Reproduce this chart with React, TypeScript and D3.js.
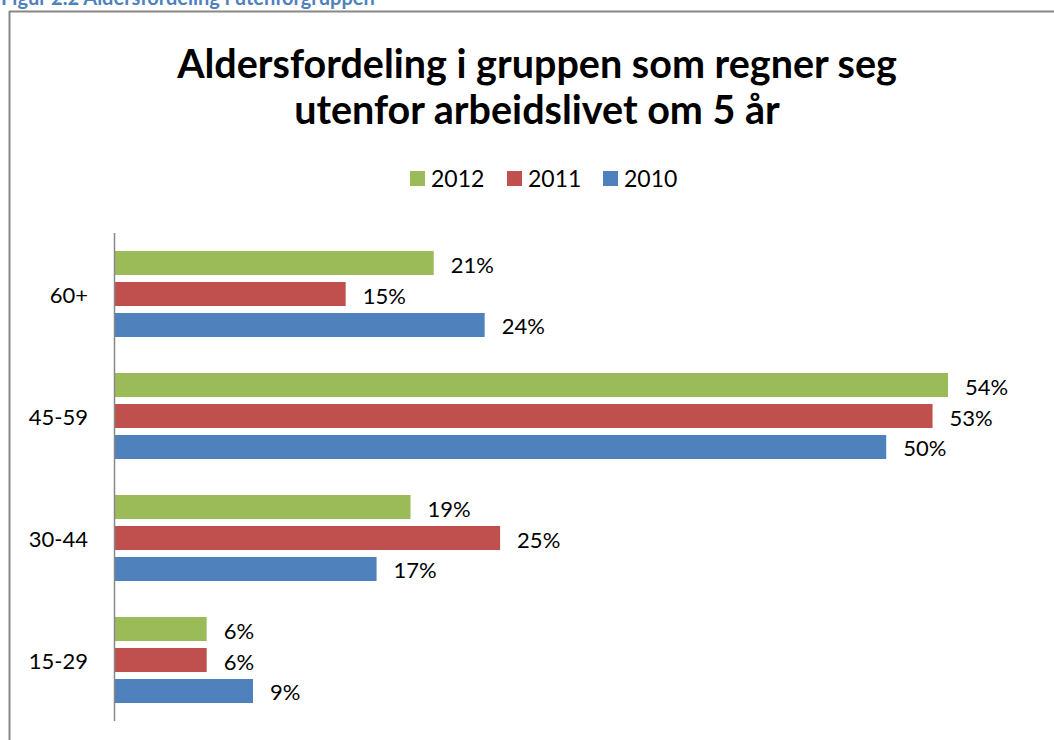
import React from "react";
import * as d3 from "d3";

const categories = ["60+", "45-59", "30-44", "15-29"];
const seriesNames = ["2012", "2011", "2010"];
const values2012 = [20.7, 54.0, 19.2, 6.0];
const values2011 = [15.0, 53.0, 25.0, 6.0];
const values2010 = [24.0, 50.0, 17.0, 9.0];
const labels2012 = ["21%", "54%", "19%", "6%"];
const labels2011 = ["15%", "53%", "25%", "6%"];
const labels2010 = ["24%", "50%", "17%", "9%"];
const colors = ["#9BBB59", "#C0504D", "#4F81BD"];

const W = 1054;
const H = 740;
const FONT = "Lato, 'Open Sans', sans-serif";

export default function App() {
  const series = [
    { name: seriesNames[0], values: values2012, labels: labels2012, color: colors[0] },
    { name: seriesNames[1], values: values2011, labels: labels2011, color: colors[1] },
    { name: seriesNames[2], values: values2010, labels: labels2010, color: colors[2] },
  ];
  const x = d3.scaleLinear().domain([0, 54]).range([114, 948]);
  const y = d3.scaleBand().domain(categories).range([233, 721]).paddingInner(0).paddingOuter(0);
  const inner = d3
    .scaleBand()
    .domain(seriesNames)
    .range([18, y.bandwidth() - 18])
    .paddingInner(0.225)
    .paddingOuter(0);

  const legendItems = [
    { x: 410, s: series[0] },
    { x: 507, s: series[1] },
    { x: 603, s: series[2] },
  ];

  return (
    <svg
      width={W}
      height={H}
      style={{ position: "absolute", left: 0, top: 0, background: "#fff" }}
      fontFamily={FONT}
    >
      <text x={1} y={5} fontSize={20} fontWeight="bold" fill="#4F81BD">
        Figur 2.2 Aldersfordeling i utenforgruppen
      </text>
      <line x1={9.5} y1={11} x2={9.5} y2={H} stroke="#878787" strokeWidth={2} />
      <line x1={9} y1={11.5} x2={W} y2={11.5} stroke="#878787" strokeWidth={2} />

      <text x={537} y={78} textAnchor="middle" fontSize={39.5} fontWeight="bold" fill="#000">
        Aldersfordeling i gruppen som regner seg
      </text>
      <text x={537} y={124} textAnchor="middle" fontSize={39.5} fontWeight="bold" fill="#000">
        utenfor arbeidslivet om 5 år
      </text>

      {legendItems.map((li) => (
        <g key={li.s.name}>
          <rect x={li.x} y={171} width={15} height={15} fill={li.s.color} />
          <text x={li.x + 21} y={187} fontSize={23} fill="#000">
            {li.s.name}
          </text>
        </g>
      ))}

      {categories.map((c, ci) => (
        <g key={c}>
          <text
            x={88}
            y={(y(c) as number) + y.bandwidth() / 2}
            textAnchor="end"
            dominantBaseline="central"
            fontSize={22}
            fill="#000"
          >
            {c}
          </text>
          {series.map((s) => {
            const by = (y(c) as number) + (inner(s.name) as number);
            return (
              <g key={s.name}>
                <rect
                  x={x(0)}
                  y={by}
                  width={x(s.values[ci]) - x(0)}
                  height={inner.bandwidth()}
                  fill={s.color}
                />
                <text
                  x={x(s.values[ci]) + 17}
                  y={by + inner.bandwidth() / 2 + 1}
                  dominantBaseline="central"
                  fontSize={22}
                  fill="#000"
                >
                  {s.labels[ci]}
                </text>
              </g>
            );
          })}
        </g>
      ))}

      <line x1={114.5} y1={233} x2={114.5} y2={721} stroke="#888" strokeWidth={1.5} />
    </svg>
  );
}
